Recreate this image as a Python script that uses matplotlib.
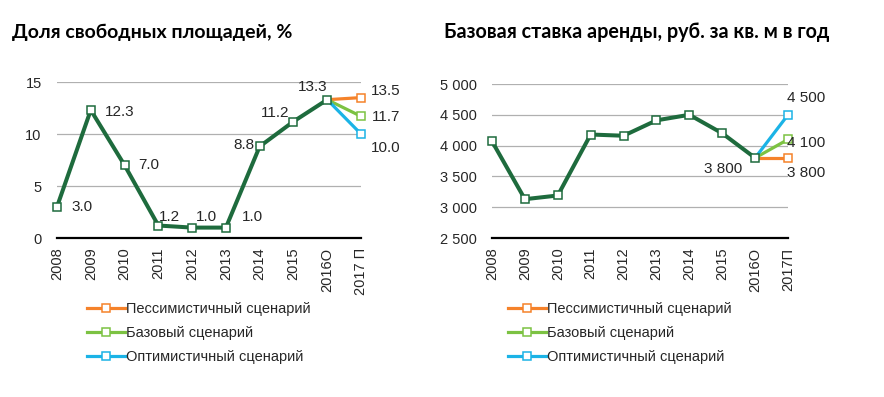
import matplotlib
matplotlib.use('Agg')
import matplotlib.pyplot as plt
from matplotlib.lines import Line2D

years_left = ['2008', '2009', '2010', '2011', '2012', '2013', '2014', '2015', '2016О', '2017 П']
years_right = ['2008', '2009', '2010', '2011', '2012', '2013', '2014', '2015', '2016О', '2017П']

vacancy = [3.0, 12.3, 7.0, 1.2, 1.0, 1.0, 8.8, 11.2, 13.3]
vacancy_2017 = [13.5, 11.7, 10.0]          # pessimistic, base, optimistic

rent = [4070, 3130, 3190, 4180, 4160, 4410, 4500, 4200, 3800]
rent_2017 = [3800, 4100, 4500]

scenarios = ['Пессимистичный сценарий', 'Базовый сценарий', 'Оптимистичный сценарий']

GREEN = '#1e6b3d'
SC_COLORS = ['#f5822a', '#7cc242', '#1bb3e6']
TXT = '#262626'

plt.rcParams['font.family'] = ['Liberation Sans', 'DejaVu Sans']

fig = plt.figure(figsize=(8.84, 3.97), dpi=100)
W, H = 884, 397


def px_axes(x0, x1, ytop, ybot):
    return fig.add_axes([x0 / W, 1 - ybot / H, (x1 - x0) / W, (ybot - ytop) / H])


def draw(ax, cats, main, last, ylim, yticks, ytlabels, labels):
    n = len(main)
    xs = list(range(len(cats)))
    for val, c in zip(last, SC_COLORS):
        ax.plot([xs[n - 1], xs[n]], [main[-1], val], color=c, lw=2.3, clip_on=False,
                marker='s', markevery=[1], ms=6, mfc='white', mec=c, mew=1.1, zorder=3)
    ax.plot(xs[:n], main, color=GREEN, lw=2.9, marker='s', ms=6, mfc='white',
            mec=GREEN, mew=1.1, zorder=4, clip_on=False)
    ax.set_xlim(0, len(cats) - 1)
    ax.set_ylim(*ylim)
    ax.set_yticks(yticks)
    ax.set_yticklabels(ytlabels)
    ax.set_xticks(xs)
    ax.set_xticklabels(cats, rotation=90)
    ax.tick_params(length=0, labelsize=10.5, labelcolor=TXT)
    ax.tick_params(axis='y', pad=11)
    ax.tick_params(axis='x', pad=7)
    for s in ['left', 'right', 'top']:
        ax.spines[s].set_visible(False)
    ax.spines['bottom'].set_color('black')
    ax.spines['bottom'].set_linewidth(1.6)
    ax.spines['bottom'].set_zorder(5)
    ax.set_axisbelow(True)
    ax.grid(axis='y', color='#b0b0b0', lw=0.9)
    # data labels
    for (xi, yi, txt, dx, dy) in labels:
        ax.annotate(txt, (xi, yi), xytext=(dx * 0.72, dy * 0.72), textcoords='offset points',
                    ha='center', va='center', fontsize=11, color=TXT, zorder=6)


def legend(ax, xpx, ypx):
    handles = [Line2D([0], [0], color=c, lw=2.3, marker='s', ms=6, mfc='white',
                      mec=c, mew=1.1) for c in SC_COLORS]
    ax.legend(handles, scenarios, loc='upper left', bbox_to_anchor=(xpx / W, 1 - ypx / H),
              bbox_transform=fig.transFigure, frameon=False, fontsize=10.5,
              handlelength=2.6, handletextpad=0.1, labelspacing=0.68, borderpad=0,
              borderaxespad=0, labelcolor=TXT)


# left chart
ax1 = px_axes(57, 361, 82, 238)
lab1 = [(0, 3.0, '3.0', 25, 0), (1, 12.3, '12.3', 29, -2), (2, 7.0, '7.0', 24, 0),
        (3, 1.2, '1.2', 11, 9), (4, 1.0, '1.0', 14, 11), (5, 1.0, '1.0', 27, 11),
        (6, 8.8, '8.8', -16, 1), (7, 11.2, '11.2', -18, 9), (8, 13.3, '13.3', -15, 13),
        (9, 13.5, '13.5', 25, 7), (9, 11.7, '11.7', 25, -1), (9, 10.0, '10.0', 25, -14)]
draw(ax1, years_left, vacancy, vacancy_2017, (0, 15), [0, 5, 10, 15],
     ['0', '5', '10', '15'], lab1)
legend(ax1, 87, 302)

# right chart
ax2 = px_axes(492, 788, 84, 238)
rt = [2500, 3000, 3500, 4000, 4500, 5000]
lab2 = [(8, 3800, '3 800', -32, -11), (9, 4500, '4 500', 18, 17),
        (9, 4100, '4 100', 18, -4), (9, 3800, '3 800', 18, -15)]
draw(ax2, years_right, rent, rent_2017, (2500, 5000), rt,
     [f'{v:,}'.replace(',', ' ') for v in rt], lab2)
legend(ax2, 508, 302)

fig.text(12 / W, 1 - 32 / H, 'Доля свободных площадей, %', fontsize=14, fontweight='bold',
         family=['Lato', 'DejaVu Sans'], va='center', ha='left', color='black')
fig.text(444 / W, 1 - 32 / H, 'Базовая ставка аренды, руб. за кв. м в год', fontsize=14.2,
         fontweight='bold', family=['Lato', 'DejaVu Sans'], va='center', ha='left', color='black')

fig.savefig('out.png', dpi=100)
